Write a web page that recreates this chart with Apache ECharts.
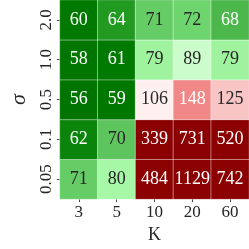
<!DOCTYPE html>
<html>
<head>
<meta charset="utf-8">
<script src="https://cdn.jsdelivr.net/npm/echarts@6/dist/echarts.min.js"></script>
<style>html,body{margin:0;padding:0;background:#fff}#c{width:249px;height:249px}</style>
</head>
<body>
<div id="c"></div>
<script>
const kLabels = ['3', '5', '10', '20', '60'];
const sigmaLabels = ['0.05', '0.1', '0.5', '1.0', '2.0'];
// rows from bottom (sigma=0.05) to top (sigma=2.0), columns K = 3,5,10,20,60
const row005 = [71, 80, 484, 1129, 742];
const row01 = [62, 70, 339, 731, 520];
const row05 = [56, 59, 106, 148, 125];
const row10 = [58, 61, 79, 89, 79];
const row20 = [60, 64, 71, 72, 68];
const rows = [row005, row01, row05, row10, row20];

// colour anchors for the colormap (style only)
const anchors = [[56,'#007400'],[61,'#007a00'],[62,'#0b840b'],[64,'#229a22'],[68,'#4cb84c'],[70,'#5ec45e'],[71,'#66cc66'],[72,'#6ed46e'],[80,'#a6f7a6'],[89,'#ccfccc'],[100,'#ffffff'],[106,'#fff0f0'],[125,'#f8c4c4'],[148,'#f08888'],[200,'#b52a2a'],[256,'#8b0000']];
function hex2rgb(h){return [parseInt(h.slice(1,3),16),parseInt(h.slice(3,5),16),parseInt(h.slice(5,7),16)];}
const vmin = 56, vmax = 256;
const stops = [];
for (let v = vmin; v <= vmax; v++) {
  let i = 0;
  while (i < anchors.length - 2 && anchors[i+1][0] < v) i++;
  const a = anchors[i], b = anchors[i+1];
  const t = Math.max(0, Math.min(1, (v - a[0]) / (b[0] - a[0])));
  const ca = hex2rgb(a[1]), cb = hex2rgb(b[1]);
  const c = ca.map((x, j) => Math.round(x + (cb[j] - x) * t));
  stops.push('rgb(' + c.join(',') + ')');
}

const data = [];
rows.forEach((r, yi) => r.forEach((v, xi) => {
  const light = v > 68 && v < 140;
  data.push({ value: [xi, yi, v], label: { color: light ? '#262626' : '#ffffff' } });
}));

const font = 'Liberation Serif';
const chart = echarts.init(document.getElementById('c'));
chart.setOption({
  animation: false,
  grid: { left: 39, right: 0, top: 0, bottom: 39 },
  xAxis: {
    type: 'category', data: kLabels, name: 'K', nameLocation: 'middle', nameGap: 21,
    nameTextStyle: { fontFamily: font, fontSize: 18, color: '#262626' },
    axisLine: { show: false },
    axisTick: { show: true, alignWithLabel: true, length: 3, lineStyle: { color: '#444' } },
    axisLabel: { fontFamily: font, fontSize: 17, color: '#262626', margin: 5 },
    splitLine: { show: false }
  },
  yAxis: {
    type: 'category', data: sigmaLabels, name: 'σ', nameLocation: 'middle', nameGap: 28, nameRotate: 90,
    nameTextStyle: { fontFamily: font, fontSize: 22, fontStyle: 'italic', color: '#262626' },
    axisLine: { show: false },
    axisTick: { show: true, alignWithLabel: true, length: 3, lineStyle: { color: '#444' } },
    axisLabel: { fontFamily: font, fontSize: 17, color: '#262626', rotate: 90, margin: 5 },
    splitLine: { show: false }
  },
  visualMap: { show: false, type: 'continuous', min: vmin, max: vmax, dimension: 2, inRange: { color: stops } },
  series: [{
    type: 'heatmap', data: data,
    itemStyle: { borderColor: 'rgba(255,255,255,0.45)', borderWidth: 1 },
    label: { show: true, fontFamily: font, fontSize: 18, formatter: p => p.value[2] },
    emphasis: { disabled: true }
  }]
});
</script>
</body>
</html>
